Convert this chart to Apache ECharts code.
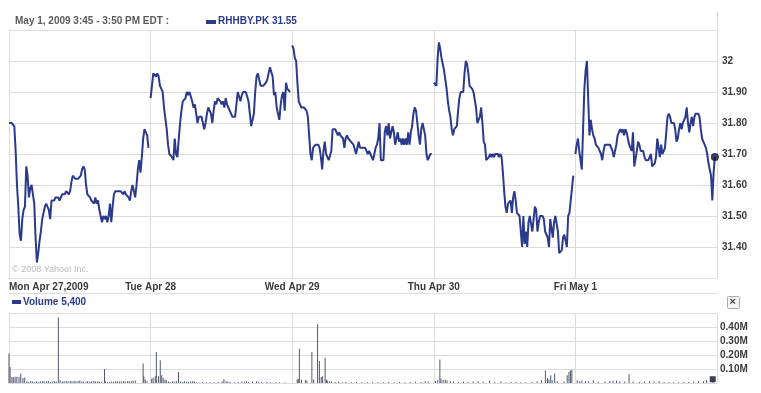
<!DOCTYPE html>
<html><head><meta charset="utf-8">
<script src="https://cdn.jsdelivr.net/npm/echarts@6/dist/echarts.min.js"></script>
<style>html,body{margin:0;padding:0;background:#fff}#c{width:761px;height:393px}</style>
</head><body><div id="c"></div><script>
const dayLabels = ['Mon Apr 27,2009', 'Tue Apr 28', 'Wed Apr 29', 'Thu Apr 30', 'Fri May 1'];
const headerText = 'May 1, 2009 3:45 - 3:50 PM EDT :';
const tickerText = 'RHHBY.PK 31.55';
const volumeText = 'Volume 5,400';
const lastVolume = 5400;

const priceMon = [31.80,31.80,31.80,31.80,31.79,31.71,31.60,31.53,31.44,31.42,31.49,31.52,31.53,31.66,31.63,31.56,31.59,31.60,31.60,31.54,31.43,31.35,31.38,31.42,31.45,31.49,31.51,31.53,31.54,31.54,31.52,31.49,31.55,31.55,31.55,31.56,31.56,31.56,31.55,31.56,31.57,31.57,31.57,31.58,31.58,31.57,31.58,31.61,31.63,31.63,31.62,31.62,31.62,31.62,31.63,31.65,31.66,31.65,31.60,31.57,31.57,31.56,31.55,31.55,31.54,31.56,31.54,31.55,31.52,31.52,31.48,31.50,31.49,31.50,31.48,31.50,31.54,31.48,31.53,31.57,31.58,31.58,31.58,31.58,31.58,31.58,31.57,31.58,31.57,31.57,31.56,31.55,31.58,31.60,31.60,31.56,31.60,31.65,31.68,31.64,31.69,31.75,31.78,31.78,31.76,31.72];
const priceTue = [31.88,31.92,31.96,31.96,31.95,31.96,31.95,31.92,31.91,31.90,31.85,31.85,31.78,31.73,31.70,31.70,31.69,31.68,31.75,31.70,31.69,31.75,31.80,31.84,31.87,31.87,31.88,31.90,31.89,31.90,31.90,31.87,31.85,31.86,31.83,31.80,31.82,31.82,31.82,31.80,31.78,31.80,31.83,31.85,31.85,31.83,31.80,31.84,31.87,31.86,31.88,31.88,31.87,31.86,31.87,31.85,31.88,31.86,31.85,31.85,31.83,31.82,31.82,31.82,31.86,31.90,31.90,31.87,31.89,31.90,31.90,31.90,31.90,31.87,31.83,31.79,31.79,31.83,31.90,31.95,31.96,31.94,31.92,31.92,31.92,31.92,31.93,31.94,31.96,31.98,31.98,31.95,31.89,31.90,31.85,31.83,31.81,31.86,31.89,31.90,31.84,31.93,31.91,31.91,31.90];
const priceWed = [32.05,32.04,32.01,32.00,31.93,31.87,31.86,31.85,31.85,31.85,31.85,31.84,31.82,31.76,31.70,31.68,31.72,31.72,31.73,31.73,31.73,31.72,31.69,31.65,31.71,31.74,31.70,31.69,31.68,31.68,31.71,31.78,31.78,31.78,31.78,31.76,31.77,31.76,31.76,31.75,31.72,31.75,31.76,31.75,31.75,31.74,31.74,31.73,31.73,31.70,31.72,31.74,31.72,31.72,31.72,31.72,31.72,31.72,31.70,31.71,31.70,31.69,31.68,31.68,31.72,31.73,31.75,31.80,31.68,31.68,31.68,31.77,31.79,31.76,31.80,31.75,31.77,31.79,31.77,31.73,31.73,31.77,31.74,31.75,31.73,31.75,31.73,31.75,31.73,31.77,31.73,31.77,31.79,31.83,31.85,31.84,31.80,31.76,31.73,31.78,31.80,31.80,31.76,31.70,31.68,31.68,31.70,31.70];
const priceThu = [31.93,31.93,31.92,32.01,32.06,32.04,32.01,32.01,31.97,31.94,31.91,31.87,31.84,31.82,31.78,31.76,31.78,31.78,31.79,31.84,31.88,31.90,31.90,31.90,31.96,32.00,31.99,31.96,31.92,31.92,31.91,31.90,31.90,31.85,31.80,31.80,31.82,31.85,31.80,31.74,31.73,31.68,31.68,31.69,31.70,31.69,31.70,31.69,31.70,31.70,31.70,31.69,31.70,31.69,31.64,31.58,31.53,31.51,31.54,31.54,31.55,31.51,31.56,31.58,31.55,31.51,31.51,31.50,31.45,31.40,31.50,31.41,31.45,31.40,31.48,31.50,31.50,31.45,31.49,31.53,31.52,31.45,31.48,31.50,31.50,31.50,31.49,31.45,31.45,31.43,31.40,31.49,31.49,31.43,31.48,31.50,31.50,31.45,31.38,31.38,31.39,31.43,31.44,31.44,31.40,31.50,31.51,31.55,31.59,31.63];
const priceFri = [31.70,31.73,31.75,31.71,31.68,31.65,31.78,31.91,31.97,32.00,31.88,31.76,31.81,31.78,31.76,31.75,31.73,31.73,31.72,31.72,31.70,31.68,31.71,31.73,31.73,31.73,31.73,31.73,31.72,31.71,31.69,31.71,31.73,31.76,31.77,31.78,31.77,31.78,31.76,31.78,31.77,31.77,31.73,31.72,31.71,31.77,31.66,31.66,31.71,31.74,31.73,31.71,31.71,31.71,31.69,31.68,31.68,31.68,31.69,31.70,31.66,31.66,31.67,31.69,31.75,31.72,31.69,31.73,31.70,31.70,31.72,31.77,31.82,31.83,31.82,31.80,31.80,31.80,31.78,31.74,31.75,31.78,31.80,31.78,31.80,31.81,31.82,31.85,31.80,31.77,31.80,31.82,31.79,31.82,31.83,31.83,31.83,31.82,31.78,31.75,31.74,31.74,31.72,31.70,31.67,31.65,31.63,31.55,31.64,31.69];

// volume: [minutes after open, shares]
const volMon = [[0,210000],[3,115000],[8,43000],[12,43000],[17,44000],[22,45000],[28,43000],[33,67000],[39,35000],[44,40000],[50,12000],[55,8000],[61,15000],[66,10000],[72,8000],[77,12000],[83,9000],[88,10000],[94,14000],[99,10000],[105,12000],[110,15000],[116,8000],[121,10000],[127,12000],[132,10000],[138,467000],[143,20000],[149,10000],[154,12000],[160,15000],[165,10000],[171,14000],[176,12000],[182,16000],[187,13000],[193,15000],[198,18000],[204,12000],[209,10000],[215,8000],[220,14000],[226,10000],[231,12000],[237,15000],[242,11000],[248,12000],[253,9000],[259,8000],[267,100000],[270,12000],[276,8000],[281,6000],[287,10000],[292,9000],[298,12000],[303,14000],[309,10000],[314,12000],[320,15000],[325,10000],[331,12000],[336,14000],[342,13000],[347,16000],[353,18000],[375,140000],[377,48000],[381,25000],[386,12000]];
const volTue = [[3,30000],[7,38000],[13,48000],[16,222000],[22,48000],[27,162000],[31,55000],[35,38000],[40,24000],[44,19000],[50,10000],[55,8000],[61,12000],[66,10000],[72,14000],[78,79000],[84,10000],[90,9000],[95,12000],[101,10000],[106,8000],[112,12000],[118,14000],[123,10000],[129,6000],[135,4000],[145,5000],[156,5000],[167,6000],[178,5000],[189,8000],[200,10000],[205,28000],[211,12000],[216,10000],[222,8000],[235,6000],[245,7000],[255,9000],[262,10000],[268,12000],[274,8000],[285,10000],[296,12000],[302,9000],[310,6000],[325,8000],[335,5000],[350,6000],[360,5000],[375,4000]];
const volWed = [[14,25000],[17,30000],[20,245000],[26,25000],[37,20000],[41,18000],[55,222000],[60,25000],[71,419000],[76,157000],[81,43000],[85,48000],[92,180000],[96,24000],[98,18000],[104,12000],[110,10000],[120,8000],[130,10000],[140,6000],[150,8000],[165,5000],[180,7000],[195,6000],[210,5000],[225,8000],[240,6000],[255,5000],[270,7000],[285,6000],[300,8000],[315,5000],[330,7000],[345,10000],[360,8000],[372,12000],[380,9000]];
const volThu = [[5,15000],[11,20000],[17,167000],[20,30000],[26,22000],[32,25000],[37,18000],[46,14000],[55,12000],[69,8000],[83,10000],[96,8000],[110,10000],[124,12000],[138,9000],[156,18000],[170,8000],[188,10000],[202,6000],[216,8000],[230,7000],[243,6000],[257,5000],[275,8000],[289,12000],[301,20000],[312,90000],[318,35000],[322,25000],[327,55000],[331,20000],[338,67000],[345,12000],[364,10000],[373,55000],[378,78000],[382,90000],[386,95000]];
const volFri = [[5,20000],[12,15000],[18,18000],[28,14000],[37,12000],[50,20000],[64,8000],[83,10000],[96,14000],[105,16000],[115,18000],[124,12000],[138,10000],[150,62000],[161,10000],[179,8000],[193,10000],[207,12000],[220,9000],[234,14000],[248,8000],[262,6000],[275,5000],[289,6000],[303,8000],[317,7000],[331,10000],[344,12000],[358,15000],[367,22000],[384,5400]];

const SPAN = 0.985;
const priceDays = [priceMon, priceTue, priceWed, priceThu, priceFri];
const volDays = [volMon, volTue, volWed, volThu, volFri];
const priceData = [];
priceDays.forEach((arr, d) => {
  arr.forEach((p, i) => priceData.push([d + i / (arr.length - 1) * SPAN, p]));
  if (d < priceDays.length - 1) priceData.push([d + 0.995, null]);
});
const volData = [];
volDays.forEach((arr, d) => arr.forEach(([m, v]) => volData.push([d + m / 390 * SPAN, v])));
const lastPt = priceData[priceData.length - 1];
const lastVol = volData[volData.length - 1];

const NAVY = '#2b3a8c';
const GRID = '#dcdcdc';
const LBL = {color: '#3a3a3a', fontFamily: 'Liberation Sans, Arial, sans-serif', fontWeight: 'bold', fontSize: 10};

const chart = echarts.init(document.getElementById('c'), null, {renderer: 'canvas'});
chart.setOption({
  animation: false,
  backgroundColor: '#fff',
  grid: [
    {left: 9, right: 44, top: 30, height: 248},
    {left: 9, right: 44, top: 313, height: 70}
  ],
  xAxis: [
    {gridIndex: 0, type: 'value', min: 0, max: 5, interval: 1,
     axisLine: {show: true, lineStyle: {color: GRID}}, axisTick: {show: false},
     splitLine: {show: true, lineStyle: {color: GRID}},
     axisLabel: Object.assign({margin: 4, showMaxLabel: false, alignMinLabel: 'left',
       formatter: v => dayLabels[Math.round(v)] || ''}, LBL)},
    {gridIndex: 1, type: 'value', min: 0, max: 5, interval: 1,
     axisLine: {show: true, lineStyle: {color: GRID}}, axisTick: {show: false},
     splitLine: {show: true, lineStyle: {color: GRID}}, axisLabel: {show: false}}
  ],
  yAxis: [
    {gridIndex: 0, type: 'value', position: 'right', min: 31.3, max: 32.1, interval: 0.1,
     axisLine: {show: true, lineStyle: {color: GRID}}, axisTick: {show: false},
     splitLine: {show: true, lineStyle: {color: GRID}},
     axisLabel: Object.assign({margin: 5, showMinLabel: false, showMaxLabel: false,
       formatter: v => Math.abs(v - 32) < 1e-6 ? '32' : v.toFixed(2)}, LBL)},
    {gridIndex: 1, type: 'value', position: 'right', min: 0, max: 500000, interval: 100000,
     axisLine: {show: true, lineStyle: {color: GRID}}, axisTick: {show: false},
     splitLine: {show: true, lineStyle: {color: GRID}},
     axisLabel: Object.assign({margin: 3, showMinLabel: false, showMaxLabel: false,
       formatter: v => (v / 1e6).toFixed(2) + 'M'}, LBL)}
  ],
  series: [
    {type: 'line', xAxisIndex: 0, yAxisIndex: 0, data: priceData, showSymbol: false,
     connectNulls: false, lineStyle: {color: NAVY, width: 2}, z: 3},
    {type: 'scatter', xAxisIndex: 0, yAxisIndex: 0, data: [lastPt], symbol: 'circle',
     symbolSize: 8, itemStyle: {color: '#0d0d2b'}, z: 4},
    {type: 'bar', xAxisIndex: 1, yAxisIndex: 1, data: volData, barWidth: 1,
     itemStyle: {color: '#4f5870'}},
    {type: 'scatter', xAxisIndex: 1, yAxisIndex: 1, data: [lastVol], symbol: 'rect',
     symbolSize: [6, 6], symbolOffset: [0, -3], itemStyle: {color: '#0d0d2b'}, z: 4}
  ],
  graphic: [
    {type: 'text', left: 15, top: 16, style: {text: headerText, fill: '#5a5a5a',
      font: 'bold 10px Liberation Sans, Arial, sans-serif'}},
    {type: 'rect', left: 206, top: 20, shape: {width: 10, height: 4}, style: {fill: NAVY}},
    {type: 'text', left: 218, top: 16, style: {text: tickerText, fill: NAVY,
      font: 'bold 10px Liberation Sans, Arial, sans-serif'}},
    {type: 'line', shape: {x1: 717.5, y1: 12, x2: 717.5, y2: 30}, style: {stroke: GRID}},
    {type: 'text', left: 12, top: 265, style: {text: '\u00a9 2008 Yahoo! Inc.', fill: '#b8b8b8',
      font: '9px Liberation Sans, Arial, sans-serif'}},
    {type: 'line', shape: {x1: 9, y1: 293.5, x2: 717, y2: 293.5}, style: {stroke: GRID}},
    {type: 'rect', left: 12, top: 300, shape: {width: 9, height: 4}, style: {fill: NAVY}},
    {type: 'text', left: 23, top: 297, style: {text: volumeText, fill: NAVY,
      font: 'bold 10px Liberation Sans, Arial, sans-serif'}},
    {type: 'rect', left: 727, top: 296, shape: {width: 12, height: 12, r: 1},
      style: {fill: '#f4f4f4', stroke: '#aaa'}},
    {type: 'text', left: 729.5, top: 296.5, style: {text: '\u00d7', fill: '#444',
      font: 'bold 11px Liberation Sans, Arial, sans-serif'}}
  ]
});
</script></body></html>
